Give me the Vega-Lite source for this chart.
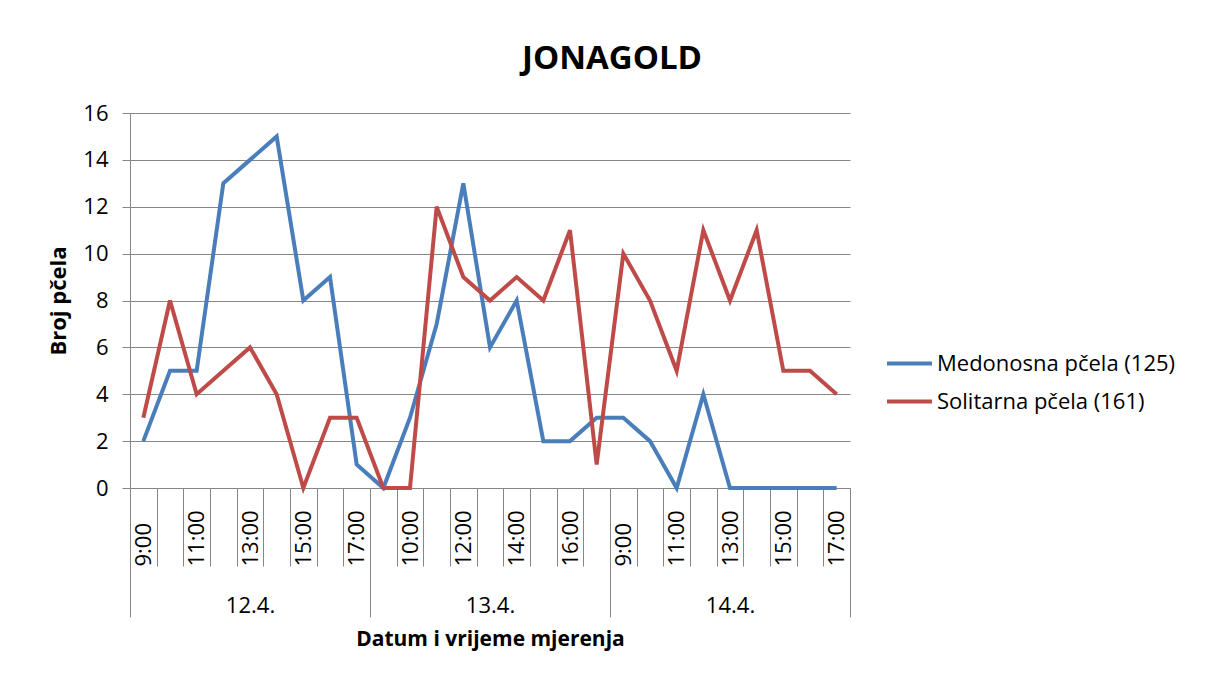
{
  "$schema": "https://vega.github.io/schema/vega-lite/v6.json",
  "width": 720,
  "height": 375,
  "padding": {"left": 130, "top": 113, "right": 356, "bottom": 189},
  "autosize": {"type": "none"},
  "background": "white",
  "config": {
    "font": "Open Sans",
    "view": {"stroke": null},
    "axis": {"labelColor": "black", "titleColor": "black", "domainColor": "#868686", "tickColor": "#868686", "gridColor": "#868686"}
  },
  "title": {"text": "JONAGOLD", "fontSize": 33, "fontWeight": "bold", "color": "black", "anchor": "middle", "dx": 122, "offset": 26},
  "data": {
    "values": [
      {"kljuc": "12.4. 09:00", "vrsta": "Medonosna pčela (125)", "broj": 2},
      {"kljuc": "12.4. 10:00", "vrsta": "Medonosna pčela (125)", "broj": 5},
      {"kljuc": "12.4. 11:00", "vrsta": "Medonosna pčela (125)", "broj": 5},
      {"kljuc": "12.4. 12:00", "vrsta": "Medonosna pčela (125)", "broj": 13},
      {"kljuc": "12.4. 13:00", "vrsta": "Medonosna pčela (125)", "broj": 14},
      {"kljuc": "12.4. 14:00", "vrsta": "Medonosna pčela (125)", "broj": 15},
      {"kljuc": "12.4. 15:00", "vrsta": "Medonosna pčela (125)", "broj": 8},
      {"kljuc": "12.4. 16:00", "vrsta": "Medonosna pčela (125)", "broj": 9},
      {"kljuc": "12.4. 17:00", "vrsta": "Medonosna pčela (125)", "broj": 1},
      {"kljuc": "13.4. 09:00", "vrsta": "Medonosna pčela (125)", "broj": 0},
      {"kljuc": "13.4. 10:00", "vrsta": "Medonosna pčela (125)", "broj": 3},
      {"kljuc": "13.4. 11:00", "vrsta": "Medonosna pčela (125)", "broj": 7},
      {"kljuc": "13.4. 12:00", "vrsta": "Medonosna pčela (125)", "broj": 13},
      {"kljuc": "13.4. 13:00", "vrsta": "Medonosna pčela (125)", "broj": 6},
      {"kljuc": "13.4. 14:00", "vrsta": "Medonosna pčela (125)", "broj": 8},
      {"kljuc": "13.4. 15:00", "vrsta": "Medonosna pčela (125)", "broj": 2},
      {"kljuc": "13.4. 16:00", "vrsta": "Medonosna pčela (125)", "broj": 2},
      {"kljuc": "13.4. 17:00", "vrsta": "Medonosna pčela (125)", "broj": 3},
      {"kljuc": "14.4. 09:00", "vrsta": "Medonosna pčela (125)", "broj": 3},
      {"kljuc": "14.4. 10:00", "vrsta": "Medonosna pčela (125)", "broj": 2},
      {"kljuc": "14.4. 11:00", "vrsta": "Medonosna pčela (125)", "broj": 0},
      {"kljuc": "14.4. 12:00", "vrsta": "Medonosna pčela (125)", "broj": 4},
      {"kljuc": "14.4. 13:00", "vrsta": "Medonosna pčela (125)", "broj": 0},
      {"kljuc": "14.4. 14:00", "vrsta": "Medonosna pčela (125)", "broj": 0},
      {"kljuc": "14.4. 15:00", "vrsta": "Medonosna pčela (125)", "broj": 0},
      {"kljuc": "14.4. 16:00", "vrsta": "Medonosna pčela (125)", "broj": 0},
      {"kljuc": "14.4. 17:00", "vrsta": "Medonosna pčela (125)", "broj": 0},
      {"kljuc": "12.4. 09:00", "vrsta": "Solitarna pčela (161)", "broj": 3},
      {"kljuc": "12.4. 10:00", "vrsta": "Solitarna pčela (161)", "broj": 8},
      {"kljuc": "12.4. 11:00", "vrsta": "Solitarna pčela (161)", "broj": 4},
      {"kljuc": "12.4. 12:00", "vrsta": "Solitarna pčela (161)", "broj": 5},
      {"kljuc": "12.4. 13:00", "vrsta": "Solitarna pčela (161)", "broj": 6},
      {"kljuc": "12.4. 14:00", "vrsta": "Solitarna pčela (161)", "broj": 4},
      {"kljuc": "12.4. 15:00", "vrsta": "Solitarna pčela (161)", "broj": 0},
      {"kljuc": "12.4. 16:00", "vrsta": "Solitarna pčela (161)", "broj": 3},
      {"kljuc": "12.4. 17:00", "vrsta": "Solitarna pčela (161)", "broj": 3},
      {"kljuc": "13.4. 09:00", "vrsta": "Solitarna pčela (161)", "broj": 0},
      {"kljuc": "13.4. 10:00", "vrsta": "Solitarna pčela (161)", "broj": 0},
      {"kljuc": "13.4. 11:00", "vrsta": "Solitarna pčela (161)", "broj": 12},
      {"kljuc": "13.4. 12:00", "vrsta": "Solitarna pčela (161)", "broj": 9},
      {"kljuc": "13.4. 13:00", "vrsta": "Solitarna pčela (161)", "broj": 8},
      {"kljuc": "13.4. 14:00", "vrsta": "Solitarna pčela (161)", "broj": 9},
      {"kljuc": "13.4. 15:00", "vrsta": "Solitarna pčela (161)", "broj": 8},
      {"kljuc": "13.4. 16:00", "vrsta": "Solitarna pčela (161)", "broj": 11},
      {"kljuc": "13.4. 17:00", "vrsta": "Solitarna pčela (161)", "broj": 1},
      {"kljuc": "14.4. 09:00", "vrsta": "Solitarna pčela (161)", "broj": 10},
      {"kljuc": "14.4. 10:00", "vrsta": "Solitarna pčela (161)", "broj": 8},
      {"kljuc": "14.4. 11:00", "vrsta": "Solitarna pčela (161)", "broj": 5},
      {"kljuc": "14.4. 12:00", "vrsta": "Solitarna pčela (161)", "broj": 11},
      {"kljuc": "14.4. 13:00", "vrsta": "Solitarna pčela (161)", "broj": 8},
      {"kljuc": "14.4. 14:00", "vrsta": "Solitarna pčela (161)", "broj": 11},
      {"kljuc": "14.4. 15:00", "vrsta": "Solitarna pčela (161)", "broj": 5},
      {"kljuc": "14.4. 16:00", "vrsta": "Solitarna pčela (161)", "broj": 5},
      {"kljuc": "14.4. 17:00", "vrsta": "Solitarna pčela (161)", "broj": 4}
    ]
  },
  "layer": [
    {
      "mark": {"type": "line", "strokeWidth": 4},
      "encoding": {
        "x": {
          "field": "kljuc", "type": "ordinal",
          "scale": {"type": "point", "padding": 0.5},
          "axis": {
            "orient": "bottom", "title": null, "labelAngle": -90, "labelAlign": "left", "labelBaseline": "middle",
            "labelExpr": "(indexof(datum.value, '13.4.') == 0) == (toNumber(substring(datum.value, 6, 8)) % 2 == 0) ? replace(substring(datum.value, 6), /^0/, '') : ''",
            "tickOffset": -13.333, "labelOffset": 13.333, "tickSize": 78, "labelPadding": 0, "labelFontSize": 22, "grid": false
          }
        },
        "y": {
          "field": "broj", "type": "quantitative",
          "scale": {"domain": [0, 16], "nice": false},
          "axis": {
            "values": [0, 2, 4, 6, 8, 10, 12, 14, 16], "grid": true, "tickSize": 8, "labelPadding": 14,
            "labelFontSize": 22, "title": "Broj pčela", "titleFontSize": 22, "titleFontWeight": "bold", "titlePadding": 12
          }
        },
        "color": {
          "field": "vrsta", "type": "nominal",
          "scale": {"range": ["#4A7EBB", "#BE4B48"]},
          "legend": {
            "title": null, "labelFontSize": 22, "labelColor": "black", "labelLimit": 400,
            "orient": "none", "legendX": 755, "legendY": 226,
            "symbolType": "stroke", "symbolSize": 2025, "symbolStrokeWidth": 4, "labelOffset": 3
          }
        }
      }
    },
    {
      "mark": {"type": "point", "opacity": 0},
      "encoding": {
        "x": {
          "field": "kljuc", "type": "ordinal",
          "axis": {
            "orient": "bottom", "values": ["12.4. 09:00", "13.4. 09:00", "14.4. 09:00"],
            "labelExpr": "substring(datum.value, 0, 5)", "labelAngle": 0, "labelAlign": "center", "labelBaseline": "bottom",
            "tickOffset": -13.333, "labelOffset": 120, "tickSize": 129, "labelPadding": 0, "labelFontSize": 22,
            "domain": false, "grid": false,
            "title": "Datum  i vrijeme mjerenja", "titleFontSize": 21, "titleFontWeight": "bold", "titlePadding": 11
          }
        }
      }
    },
    {
      "mark": {"type": "point", "opacity": 0},
      "encoding": {
        "x": {
          "field": "kljuc", "type": "ordinal",
          "axis": {
            "orient": "bottom", "values": ["14.4. 17:00"], "labels": false, "title": null,
            "tickOffset": 13.333, "tickSize": 129, "domain": false, "grid": false
          }
        }
      }
    }
  ],
  "resolve": {"axis": {"x": "independent"}}
}
